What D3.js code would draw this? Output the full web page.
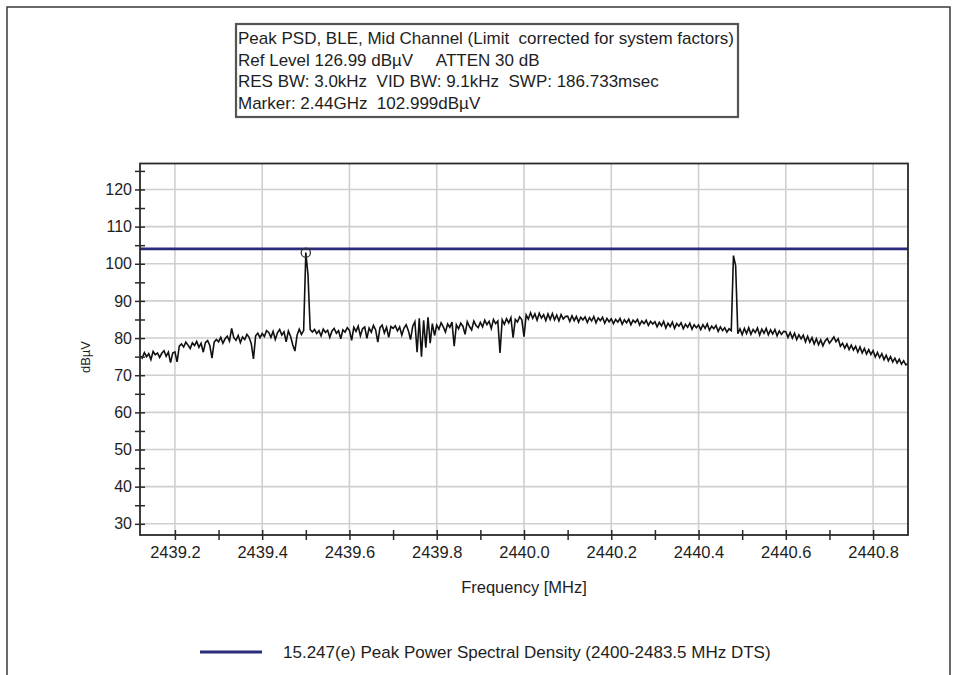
<!DOCTYPE html>
<html>
<head>
<meta charset="utf-8">
<script src="https://cdn.jsdelivr.net/npm/d3@7/dist/d3.min.js"></script>
<style>
  html, body { margin: 0; padding: 0; background: #ffffff; }
  svg { display: block; font-family: "Liberation Sans", Arial, sans-serif; }
</style>
</head>
<body>
<svg id="chart" width="954" height="675"></svg>
<script>
// Sweep settings (MHz): first bin and bin spacing of the trace
const sweepStart = 2439.12;
const sweepStep = 0.005;
const freqDomain = [2439.12, 2440.88];
const levelDomain = [26.99, 126.99];   // Ref Level 126.99 dBµV, 10 dB/div

// Measured peak trace, dBµV, one value per bin
const traceLevels = [
  75.2, 74.6, 76.1, 75.0, 75.8, 74.2, 76.4, 75.5, 76.0, 74.8, 75.9, 76.6, 75.1, 76.2, 73.4, 76.0,
  76.3, 73.6, 77.8, 78.4, 77.6, 78.9, 78.1, 77.2, 78.7, 78.0, 79.1, 77.5, 78.6, 76.2, 78.8, 79.3, 78.0, 74.6, 78.9, 79.6,
  79.0, 80.2, 78.6, 79.8, 80.5, 79.2, 82.6, 80.1, 79.4, 80.7, 78.8, 80.3, 79.6, 81.0, 80.2, 78.5, 74.4, 80.6, 81.3, 80.1,
  81.2, 80.4, 82.0, 81.5, 80.2, 81.8, 79.6, 81.4, 82.3, 80.8, 81.7, 79.0, 81.9, 80.5, 78.2, 76.5, 80.8, 82.4, 81.0,
  82.0, 102.999, 97.0, 82.3,
  81.6, 82.3, 81.2, 82.0, 80.6, 82.4, 81.5, 82.1, 80.2, 81.9, 82.6, 81.3, 82.0, 79.8, 82.2, 81.6, 82.8,
  82.1, 79.4, 82.9, 81.8, 83.2, 80.6, 82.5, 83.0, 79.9, 82.7, 81.6, 83.4, 82.2, 78.9, 82.8, 83.5, 81.4, 82.9, 80.2, 83.1,
  82.6, 83.3, 81.9, 83.0, 80.8, 82.7, 83.6, 82.0, 79.6, 83.2, 84.4, 76.2, 85.3, 75.0, 84.8, 77.4, 85.6, 78.6, 83.9, 80.7,
  83.5, 82.4, 84.1, 83.0, 81.6, 83.8, 82.9, 84.3, 77.8, 83.6, 82.5, 84.0, 83.2, 81.0, 84.4, 83.1, 82.2, 84.6, 83.4, 82.8,
  84.2, 83.0, 84.8, 83.6, 84.5, 82.6, 85.0, 83.9, 84.6, 76.0, 84.9, 83.7, 85.2, 84.1, 85.5, 80.1, 85.0, 84.3, 85.7, 84.9,
  80.4, 86.2, 85.1, 86.8, 85.3, 86.5, 84.8, 86.7, 85.4, 86.3, 84.7, 86.5, 85.0, 86.6, 84.9, 86.2, 84.6, 86.3, 85.1, 85.8,
  85.9, 84.5, 86.0, 84.7, 85.8, 84.3, 85.6, 84.9, 85.7, 84.2, 85.5, 84.6, 85.8, 84.1, 85.4, 84.7, 85.6, 84.0, 85.3, 84.4,
  85.2, 83.9, 85.0, 84.3, 85.3, 83.7, 84.9, 84.1, 85.1, 83.6, 84.8, 84.2, 85.0, 83.5, 84.6, 83.9, 84.8, 83.4, 84.5, 83.8,
  84.4, 83.0, 84.2, 83.3, 84.5, 82.7, 84.0, 83.1, 84.3, 82.6, 83.9, 83.2, 84.1, 82.5, 83.7, 82.9, 84.0, 82.4, 83.6, 82.8,
  83.5, 82.3, 83.6, 82.6, 83.8, 82.1, 83.2, 82.5, 83.4, 81.8, 83.0, 82.0, 82.8, 81.6, 82.5,
  82.0, 102.2, 99.5, 81.2,
  82.5, 80.9, 82.6, 81.2, 82.8, 81.0, 82.3, 81.5, 82.7, 80.8, 82.4, 81.3, 82.6, 80.9, 82.2, 81.1, 82.3, 80.6, 81.9, 81.0, 81.8,
  81.7, 80.2, 81.5, 80.0, 81.3, 79.6, 80.9, 79.8, 80.8, 79.0, 80.5, 78.9, 80.1, 78.4, 79.8, 78.2, 79.5, 77.9, 79.2, 79.9,
  78.6, 79.4, 80.3, 79.0, 79.8, 77.8, 78.6, 77.3, 78.4, 76.9, 78.1, 76.8, 77.8, 76.2, 77.6, 76.0, 77.2, 75.7, 76.9, 75.6,
  76.6, 74.9, 76.1, 74.7, 75.8, 74.2, 75.4, 73.9, 75.0, 73.6, 74.6, 73.3, 74.3, 73.0, 73.9, 72.8, 73.2
];

// Limit line and marker
const limitLevel = 104.0;
const markerFreq = 2439.5;
const markerLevel = 102.999;

// Axis ticks
const yMajorTicks = [30, 40, 50, 60, 70, 80, 90, 100, 110, 120];
const yAllTicks = [30, 35, 40, 45, 50, 55, 60, 65, 70, 75, 80, 85, 90, 95, 100, 105, 110, 115, 120, 125];
const xMajorTicks = [2439.2, 2439.4, 2439.6, 2439.8, 2440.0, 2440.2, 2440.4, 2440.6, 2440.8];
const xAllTicks = [2439.2, 2439.3, 2439.4, 2439.5, 2439.6, 2439.7, 2439.8, 2439.9, 2440.0,
                   2440.1, 2440.2, 2440.3, 2440.4, 2440.5, 2440.6, 2440.7, 2440.8];

// Header text and legend
const headerLines = [
  "Peak PSD, BLE, Mid Channel (Limit  corrected for system factors)",
  "Ref Level 126.99 dB\u00B5V     ATTEN 30 dB",
  "RES BW: 3.0kHz  VID BW: 9.1kHz  SWP: 186.733msec",
  "Marker: 2.44GHz  102.999dB\u00B5V"
];
const legendLabel = "15.247(e) Peak Power Spectral Density (2400-2483.5 MHz DTS)";
const xTitle = "Frequency [MHz]";
const yTitle = "dB\u00B5V";

const limitColor = "#2b2b7c";
const textColor = "#1e1e1e";

const svg = d3.select("#chart");
const plot = { left: 140, right: 908, top: 163.5, bottom: 535 };

const x = d3.scaleLinear().domain(freqDomain).range([plot.left, plot.right]);
const y = d3.scaleLinear().domain(levelDomain).range([plot.bottom, plot.top]);

// Window frame
svg.append("path")
  .attr("d", "M7,675 L7,7 L950,7 L950,675")
  .attr("fill", "none").attr("stroke", "#3a3a3a").attr("stroke-width", 1.5);

// Header box
svg.append("rect")
  .attr("x", 236).attr("y", 24).attr("width", 502).attr("height", 93)
  .attr("fill", "#ffffff").attr("stroke", "#555").attr("stroke-width", 2.2);
svg.append("g").selectAll("text").data(headerLines).join("text")
  .attr("x", 238).attr("y", (d, i) => 44 + i * 21.6)
  .attr("font-size", 17).attr("fill", textColor)
  .style("white-space", "pre")
  .text(d => d);

// Grid
const grid = svg.append("g").attr("stroke", "#cfcfcf").attr("stroke-width", 1.6);
grid.selectAll(".gy").data(yMajorTicks).join("line")
  .attr("x1", plot.left).attr("x2", plot.right)
  .attr("y1", d => y(d)).attr("y2", d => y(d));
grid.selectAll(".gx").data(xMajorTicks).join("line")
  .attr("y1", plot.top).attr("y2", plot.bottom)
  .attr("x1", d => x(d)).attr("x2", d => x(d));

// Limit line
svg.append("line")
  .attr("x1", x(freqDomain[0])).attr("x2", x(freqDomain[1]))
  .attr("y1", y(limitLevel)).attr("y2", y(limitLevel))
  .attr("stroke", limitColor).attr("stroke-width", 2.8);

// Trace
const traceData = traceLevels.map((v, i) => [sweepStart + i * sweepStep, v]);
svg.append("path")
  .datum(traceData)
  .attr("fill", "none").attr("stroke", "#111").attr("stroke-width", 1.6)
  .attr("stroke-linejoin", "miter")
  .attr("d", d3.line().x(d => x(d[0])).y(d => y(d[1])));

// Marker
svg.append("circle")
  .attr("cx", x(markerFreq)).attr("cy", y(markerLevel)).attr("r", 4.6)
  .attr("fill", "none").attr("stroke", "#333").attr("stroke-width", 1.3);

// Plot frame
svg.append("rect")
  .attr("x", plot.left).attr("y", plot.top)
  .attr("width", plot.right - plot.left).attr("height", plot.bottom - plot.top)
  .attr("fill", "none").attr("stroke", "#2a2a2a").attr("stroke-width", 1.8);

// Y axis: ticks straddle the left edge
const yAxis = d3.axisLeft(y).tickValues(yAllTicks).tickSize(10).tickPadding(3)
  .tickFormat(d => (d % 10 === 0 ? d3.format("d")(d) : ""));
const gy = svg.append("g").attr("transform", `translate(${plot.left + 5},0)`).call(yAxis);
gy.select(".domain").remove();
gy.selectAll("line").attr("stroke", "#2a2a2a").attr("stroke-width", 1.5);
gy.selectAll("text").attr("font-size", 16).attr("fill", textColor).attr("font-family", "Liberation Sans, Arial, sans-serif");

// X axis: ticks straddle the bottom edge
const xAxis = d3.axisBottom(x).tickValues(xAllTicks).tickSize(10).tickPadding(6)
  .tickFormat(d => (Math.abs(Math.round(d * 10) % 2) === 0 ? d3.format(".1f")(d) : ""));
const gx = svg.append("g").attr("transform", `translate(0,${plot.bottom - 5})`).call(xAxis);
gx.select(".domain").remove();
gx.selectAll("line").attr("stroke", "#2a2a2a").attr("stroke-width", 1.5);
gx.selectAll("text").attr("font-size", 16.5).attr("fill", textColor).attr("font-family", "Liberation Sans, Arial, sans-serif");

// Axis titles
svg.append("text")
  .attr("x", 524).attr("y", 593).attr("text-anchor", "middle")
  .attr("font-size", 16.5).attr("fill", textColor).text(xTitle);
svg.append("text")
  .attr("transform", "translate(90,357) rotate(-90)").attr("text-anchor", "middle")
  .attr("font-size", 13).attr("fill", textColor).text(yTitle);

// Legend
svg.append("line")
  .attr("x1", 200).attr("x2", 262).attr("y1", 652).attr("y2", 652)
  .attr("stroke", limitColor).attr("stroke-width", 3);
svg.append("text")
  .attr("x", 283).attr("y", 658)
  .attr("font-size", 17).attr("fill", textColor).text(legendLabel);
</script>
</body>
</html>
